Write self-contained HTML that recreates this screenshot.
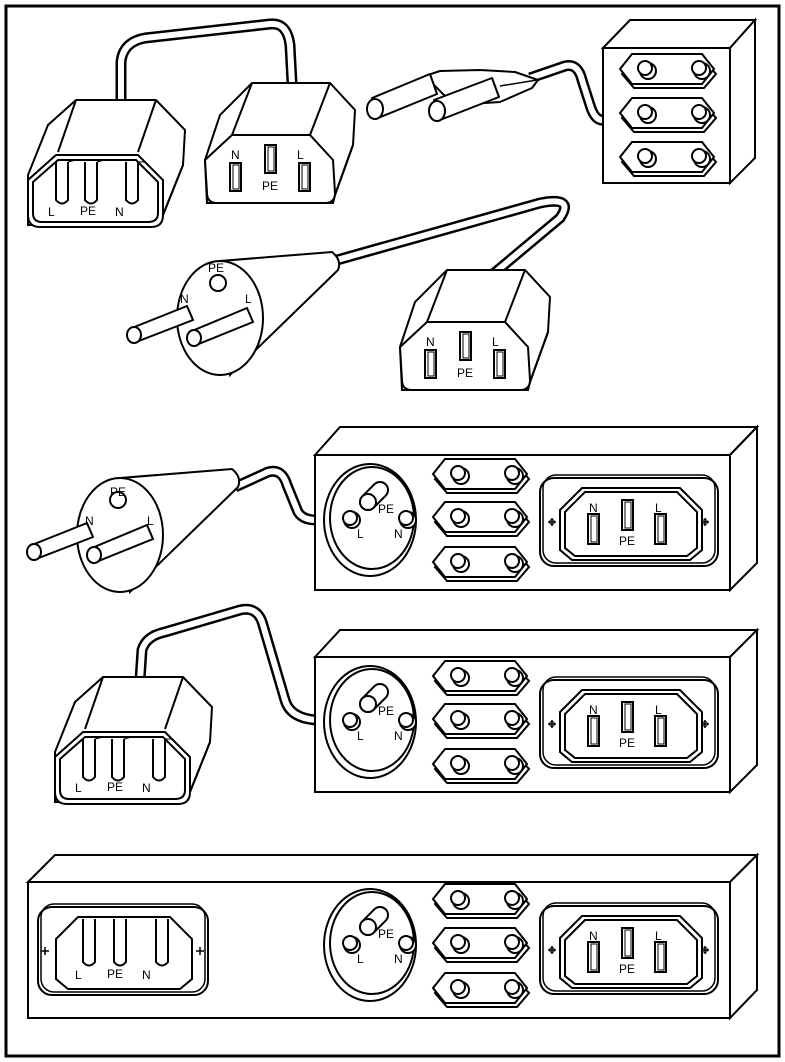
<!DOCTYPE html>
<html><head><meta charset="utf-8"><style>
html,body{margin:0;padding:0;background:#fff}
svg{display:block}
text{font-family:"Liberation Sans",Arial,sans-serif;font-size:12px;fill:#000}
</style></head><body>
<svg width="785" height="1062" viewBox="0 0 785 1062" xmlns="http://www.w3.org/2000/svg">
<defs>
  <g id="euro">
    <polygon points="2,22 14,8 84,8 96,22 84,36 14,36" fill="#fff" stroke="#000" stroke-width="2"/>
    <polygon points="0,17 12,2 82,2 94,17 82,32 12,32" fill="#fff" stroke="#000" stroke-width="2"/>
    <circle cx="28" cy="19" r="8" fill="#fff" stroke="#000" stroke-width="2"/>
    <circle cx="25" cy="16" r="7" fill="#fff" stroke="#000" stroke-width="2"/>
    <circle cx="82" cy="19" r="8" fill="#fff" stroke="#000" stroke-width="2"/>
    <circle cx="79" cy="16" r="7" fill="#fff" stroke="#000" stroke-width="2"/>
  </g>
  <g id="schukoS">
    <ellipse cx="0" cy="0" rx="46" ry="56" fill="#fff" stroke="#000" stroke-width="2"/>
    <ellipse cx="2" cy="-2" rx="42" ry="51" fill="none" stroke="#000" stroke-width="2"/>
    <circle cx="-18" cy="0" r="8" fill="#fff" stroke="#000" stroke-width="2"/>
    <circle cx="-20" cy="-2" r="7" fill="#fff" stroke="#000" stroke-width="2"/>
    <circle cx="38" cy="0" r="8" fill="#fff" stroke="#000" stroke-width="2"/>
    <circle cx="36" cy="-2" r="7" fill="#fff" stroke="#000" stroke-width="2"/>
    <line x1="-2" y1="-18" x2="10" y2="-30" stroke="#000" stroke-width="18" stroke-linecap="round"/>
    <line x1="-2" y1="-18" x2="10" y2="-30" stroke="#fff" stroke-width="14" stroke-linecap="round"/>
    <circle cx="-2" cy="-18" r="8" fill="#fff" stroke="#000" stroke-width="2"/>
  </g>
  <g id="inlet13">
    <rect x="0" y="0" width="178" height="88" rx="14" fill="#fff" stroke="#000" stroke-width="2"/>
    <rect x="3" y="-3" width="172" height="88" rx="13" fill="none" stroke="#000" stroke-width="1.5"/>
    <polygon points="20,32 42,10 140,10 162,32 162,72 150,82 32,82 20,72" fill="#fff" stroke="#000" stroke-width="2"/>
    <polygon points="25,34 45,14 137,14 157,34 157,70 147,78 35,78 25,70" fill="none" stroke="#000" stroke-width="2"/>
    <g stroke="#000" stroke-width="1.5"><line x1="8" y1="44" x2="16" y2="44"/><line x1="12" y1="40" x2="12" y2="48"/><line x1="161" y1="44" x2="169" y2="44"/><line x1="165" y1="40" x2="165" y2="48"/></g>
    <circle cx="12" cy="44" r="2.5" fill="none" stroke="#000"/><circle cx="165" cy="44" r="2.5" fill="none" stroke="#000"/>
    <rect x="48" y="36" width="11" height="30" fill="#fff" stroke="#000" stroke-width="2"/><rect x="51" y="38" width="6" height="26" fill="none" stroke="#000"/>
    <rect x="82" y="22" width="11" height="30" fill="#fff" stroke="#000" stroke-width="2"/><rect x="85" y="24" width="6" height="26" fill="none" stroke="#000"/>
    <rect x="115" y="36" width="11" height="30" fill="#fff" stroke="#000" stroke-width="2"/><rect x="118" y="38" width="6" height="26" fill="none" stroke="#000"/>
  </g>
  <g id="inlet14">
    <rect x="0" y="0" width="170" height="88" rx="14" fill="#fff" stroke="#000" stroke-width="2"/>
    <rect x="3" y="-3" width="164" height="88" rx="13" fill="none" stroke="#000" stroke-width="1.5"/>
    <polygon points="18,32 40,10 132,10 154,32 154,72 142,82 30,82 18,72" fill="#fff" stroke="#000" stroke-width="2"/>
    <g stroke="#000" stroke-width="1.5"><line x1="3" y1="44" x2="11" y2="44"/><line x1="7" y1="40" x2="7" y2="48"/><line x1="158" y1="44" x2="166" y2="44"/><line x1="162" y1="40" x2="162" y2="48"/></g>
    <path d="M45,12 L45,55 Q51,62 57,55 L57,12" fill="#fff" stroke="#000" stroke-width="2"/>
    <path d="M76,12 L76,55 Q82,62 88,55 L88,12" fill="#fff" stroke="#000" stroke-width="2"/>
    <path d="M118,12 L118,55 Q124,62 130,55 L130,12" fill="#fff" stroke="#000" stroke-width="2"/>
  </g>
  <g id="c13">
    <polygon points="0,77 15,32 47,0 125,0 150,27 148,62 130,112 128,120 2,120" fill="#fff" stroke="#000" stroke-width="2"/>
    <line x1="47" y1="0" x2="27" y2="52" stroke="#000" stroke-width="2"/>
    <line x1="125" y1="0" x2="105" y2="52" stroke="#000" stroke-width="2"/>
    <line x1="130" y1="112" x2="148" y2="62" stroke="#000" stroke-width="2"/>
    <path d="M0,77 L27,52 L105,52 L128,77 L130,110 Q130,120 120,120 L12,120 Q2,120 2,110 Z" fill="#fff" stroke="#000" stroke-width="2"/>
    <rect x="25" y="80" width="11" height="28" fill="#fff" stroke="#000" stroke-width="2"/><rect x="28" y="82" width="6" height="24" fill="none" stroke="#000"/>
    <rect x="60" y="62" width="11" height="28" fill="#fff" stroke="#000" stroke-width="2"/><rect x="63" y="64" width="6" height="24" fill="none" stroke="#000"/>
    <rect x="94" y="80" width="11" height="28" fill="#fff" stroke="#000" stroke-width="2"/><rect x="97" y="82" width="6" height="24" fill="none" stroke="#000"/>
  </g>
  <g id="c14">
    <polygon points="0,75 20,25 48,0 128,0 157,30 155,65 135,115 128,125 0,125" fill="#fff" stroke="#000" stroke-width="2"/>
    <line x1="48" y1="0" x2="30" y2="52" stroke="#000" stroke-width="2"/>
    <line x1="128" y1="0" x2="110" y2="52" stroke="#000" stroke-width="2"/>
    <line x1="135" y1="115" x2="155" y2="65" stroke="#000" stroke-width="2"/>
    <path d="M0,80 L28,55 L110,55 L135,80 L135,115 Q135,127 123,127 L12,127 Q0,127 0,115 Z" fill="#fff" stroke="#000" stroke-width="2"/>
    <path d="M5,82 L30,60 L108,60 L130,82 L130,113 Q130,122 120,122 L14,122 Q5,122 5,113 Z" fill="none" stroke="#000" stroke-width="2"/>
    <path d="M28,62 L28,100 Q34,107 40,100 L40,62" fill="#fff" stroke="#000" stroke-width="2"/>
    <path d="M57,62 L57,100 Q63,107 69,100 L69,62" fill="#fff" stroke="#000" stroke-width="2"/>
    <path d="M98,62 L98,100 Q104,107 110,100 L110,62" fill="#fff" stroke="#000" stroke-width="2"/>
    <line x1="40" y1="62" x2="48" y2="60" stroke="#000"/><line x1="69" y1="62" x2="77" y2="60" stroke="#000"/><line x1="110" y1="62" x2="118" y2="62" stroke="#000"/>
  </g>
  <g id="splug">
    <path d="M0,-57 L112,-66 Q122,-58 118,-48 L10,57 Z" fill="#fff" stroke="#000" stroke-width="2"/>
    <ellipse cx="0" cy="0" rx="43" ry="57" fill="#fff" stroke="#000" stroke-width="2"/>
    <circle cx="-2" cy="-35" r="8" fill="#fff" stroke="#000" stroke-width="2"/>
    <polygon points="-33,-12 -88,10 -84,24 -27,2" fill="#fff" stroke="#000" stroke-width="2"/>
    <ellipse cx="-86" cy="17" rx="7" ry="8" fill="#fff" stroke="#000" stroke-width="2"/>
    <polygon points="27,-10 -28,13 -24,27 33,4" fill="#fff" stroke="#000" stroke-width="2"/>
    <ellipse cx="-26" cy="20" rx="7" ry="8" fill="#fff" stroke="#000" stroke-width="2"/>
  </g>
</defs>

<rect x="6" y="6" width="773" height="1050" fill="#fff" stroke="#000" stroke-width="3"/>

<!-- cords -->
<g fill="none" stroke-linejoin="round">
 <path d="M121,100 L121,62 Q123,42 145,38 L270,24 Q287,22 290,45 L292,83" stroke="#000" stroke-width="11"/>
 <path d="M121,100 L121,62 Q123,42 145,38 L270,24 Q287,22 290,45 L292,83" stroke="#fff" stroke-width="6"/>
 <path d="M530,78 L565,66 Q578,63 582,80 L590,105 Q595,122 605,120" stroke="#000" stroke-width="11"/>
 <path d="M530,78 L565,66 Q578,63 582,80 L590,105 Q595,122 605,120" stroke="#fff" stroke-width="6"/>
 <path d="M330,262 L540,203 Q575,196 560,218 L492,275" stroke="#000" stroke-width="11"/>
 <path d="M330,262 L540,203 Q575,196 560,218 L492,275" stroke="#fff" stroke-width="6"/>
 <path d="M235,487 L268,472 Q282,468 287,485 L298,512 Q303,520 316,520" stroke="#000" stroke-width="11"/>
 <path d="M235,487 L268,472 Q282,468 287,485 L298,512 Q303,520 316,520" stroke="#fff" stroke-width="6"/>
 <path d="M140,680 L142,650 Q146,636 165,632 L240,610 Q258,606 263,625 L285,700 Q290,718 316,720" stroke="#000" stroke-width="11"/>
 <path d="M140,680 L142,650 Q146,636 165,632 L240,610 Q258,606 263,625 L285,700 Q290,718 316,720" stroke="#fff" stroke-width="6"/>
</g>

<!-- top left connectors -->
<use href="#c14" x="28" y="100"/>
<text x="48" y="216">L</text><text x="80" y="215">PE</text><text x="115" y="216">N</text>
<use href="#c13" x="205" y="83"/>
<text x="231" y="159">N</text><text x="262" y="190">PE</text><text x="297" y="159">L</text>

<!-- euro plug -->
<g stroke="#000" stroke-width="2" fill="#fff" stroke-linejoin="round">
 <path d="M425,76 L440,71 L480,70 L515,72 L538,80 L532,88 L500,102 L470,104 L445,96 Z"/>
 <line x1="500" y1="86" x2="537" y2="80" stroke-width="1.5"/>
 <polygon points="430,74 372,98 378,118 437,94"/>
 <ellipse cx="375" cy="109" rx="8" ry="10"/>
 <polygon points="492,78 434,100 440,120 499,97"/>
 <ellipse cx="437" cy="111" rx="8" ry="10"/>
</g>

<!-- triple euro box -->
<g stroke="#000" stroke-width="2" fill="#fff">
 <polygon points="603,48 630,20 755,20 730,48"/>
 <polygon points="730,48 755,20 755,158 730,183"/>
 <rect x="603" y="48" width="127" height="135"/>
</g>
<use href="#euro" x="620" y="52"/><use href="#euro" x="620" y="96"/><use href="#euro" x="620" y="140"/>

<!-- schuko plug 1 + connector -->
<use href="#splug" x="220" y="318"/>
<text x="208" y="272">PE</text><text x="180" y="303">N</text><text x="245" y="303">L</text>
<use href="#c13" x="400" y="270"/>
<text x="426" y="346">N</text><text x="457" y="377">PE</text><text x="492" y="346">L</text>

<!-- schuko plug 2 -->
<use href="#splug" x="120" y="535"/>
<text x="110" y="496">PE</text><text x="85" y="525">N</text><text x="147" y="525">L</text>

<!-- strip box 1 -->
<g stroke="#000" stroke-width="2" fill="#fff">
 <polygon points="315,455 340,427 757,427 730,455"/>
 <polygon points="730,455 757,427 757,563 730,590"/>
 <rect x="315" y="455" width="415" height="135"/>
</g>
<use href="#schukoS" x="370" y="520"/>
<text x="378" y="513">PE</text><text x="357" y="538">L</text><text x="394" y="538">N</text>
<use href="#euro" x="433" y="457"/><use href="#euro" x="433" y="500"/><use href="#euro" x="433" y="545"/>
<use href="#inlet13" x="540" y="478"/>
<text x="589" y="512">N</text><text x="619" y="545">PE</text><text x="655" y="512">L</text>

<!-- strip box 2 -->
<g stroke="#000" stroke-width="2" fill="#fff">
 <polygon points="315,657 340,630 757,630 730,657"/>
 <polygon points="730,657 757,630 757,765 730,792"/>
 <rect x="315" y="657" width="415" height="135"/>
</g>
<use href="#schukoS" x="370" y="722"/>
<text x="378" y="715">PE</text><text x="357" y="740">L</text><text x="394" y="740">N</text>
<use href="#euro" x="433" y="659"/><use href="#euro" x="433" y="702"/><use href="#euro" x="433" y="747"/>
<use href="#inlet13" x="540" y="680"/>
<text x="589" y="714">N</text><text x="619" y="747">PE</text><text x="655" y="714">L</text>
<use href="#c14" x="55" y="677"/>
<text x="75" y="792">L</text><text x="107" y="791">PE</text><text x="142" y="792">N</text>

<!-- strip box 3 -->
<g stroke="#000" stroke-width="2" fill="#fff">
 <polygon points="28,882 55,855 757,855 730,882"/>
 <polygon points="730,882 757,855 757,990 730,1018"/>
 <rect x="28" y="882" width="702" height="136"/>
</g>
<use href="#inlet14" x="38" y="907"/>
<text x="75" y="979">L</text><text x="107" y="978">PE</text><text x="142" y="979">N</text>
<use href="#schukoS" x="370" y="945"/>
<text x="378" y="938">PE</text><text x="357" y="963">L</text><text x="394" y="963">N</text>
<use href="#euro" x="433" y="882"/><use href="#euro" x="433" y="926"/><use href="#euro" x="433" y="971"/>
<use href="#inlet13" x="540" y="906"/>
<text x="589" y="940">N</text><text x="619" y="973">PE</text><text x="655" y="940">L</text>
</svg>
</body></html>
